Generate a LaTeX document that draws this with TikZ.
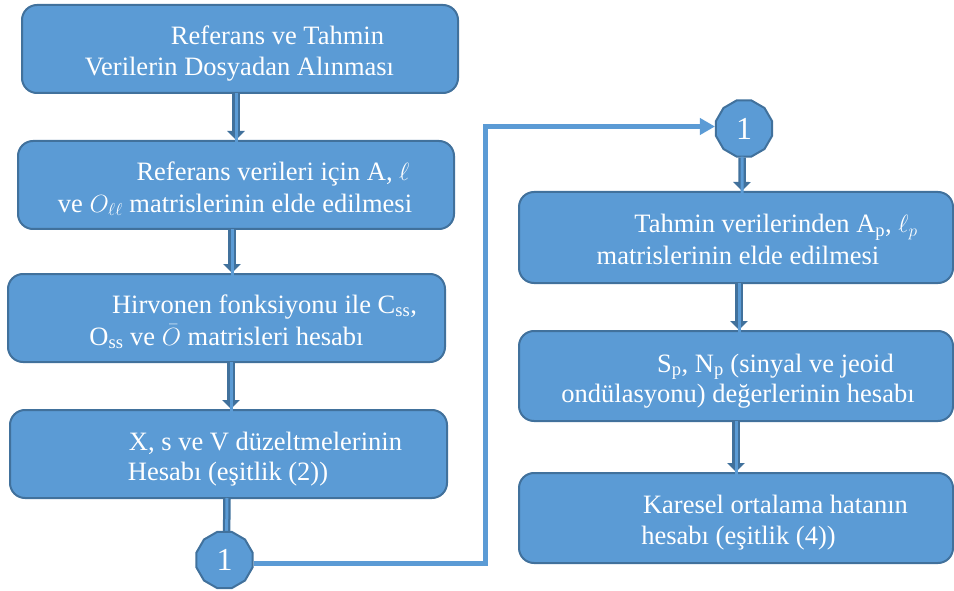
\documentclass[tikz,border=0pt]{standalone}
\usepackage{fontspec}
\setmainfont{Liberation Serif}
\usetikzlibrary{arrows.meta,shapes.geometric}
\definecolor{boxfill}{HTML}{5B9BD5}
\definecolor{boxline}{HTML}{41719C}
\tikzset{
  flowbox/.style={draw=boxline, fill=boxfill, line width=2pt, rounded corners=15pt, inner sep=0pt},
  txt/.style={anchor=base, text=white, inner sep=0pt, font=\fontsize{26.5}{31}\selectfont},
  conn/.style={draw=boxline, fill=boxfill, line width=2pt, regular polygon, regular polygon sides=12,
     minimum size=58pt, inner sep=0pt, text=white, font=\fontsize{32}{36}\selectfont},
  arrouter/.style={draw=boxline, line width=7.5pt, -{Triangle[length=9pt,width=17pt]}},
  arrinner/.style={draw=boxfill, line width=3pt},
  plainouter/.style={draw=boxline, line width=7.5pt},
  link/.style={draw=boxfill, line width=5pt}
}
\begin{document}
\begin{tikzpicture}[x=1pt,y=-1pt]
\useasboundingbox (0,0) rectangle (954,591);
% boxes
\node[flowbox, minimum width=436pt, minimum height=88pt] (b1) at (240,49) {};
\node[flowbox, minimum width=436pt, minimum height=88pt] (b2) at (236,185) {};
\node[flowbox, minimum width=437pt, minimum height=88pt] (b3) at (226.5,318) {};
\node[flowbox, minimum width=437pt, minimum height=88pt] (b4) at (228.5,454) {};
\node[flowbox, minimum width=434pt, minimum height=91pt] (b5) at (736,237.5) {};
\node[flowbox, minimum width=434pt, minimum height=90pt] (b6) at (736,376) {};
\node[flowbox, minimum width=434pt, minimum height=90pt] (b7) at (736,518) {};
% texts
\node[txt] (t1a) at (277.5,45) {Referans ve Tahmin};
\node[txt] (t1b) at (239.5,76) {Verilerin Dosyadan Alınması};
\node[txt] (t2a) at (273,181) {Referans verileri için A, $\ell$};
\node[txt] (t2b) at (235,212) {ve $O_{\ell\ell}$ matrislerinin elde edilmesi};
\node[txt] (t3a) at (264.5,313) {Hirvonen fonksiyonu ile C\textsubscript{ss},};
\node[txt] (t3b) at (226.5,345) {O\textsubscript{ss} ve \smash{$\bar{O}$} matrisleri hesabı};
\node[txt] (t4a) at (265.5,450) {X, s ve V düzeltmelerinin};
\node[txt] (t4b) at (228,480) {Hesabı (eşitlik (2))};
\node[txt] (t5a) at (776,233) {Tahmin verilerinden A\textsubscript{p}, $\ell_p$};
\node[txt] (t5b) at (738,265) {matrislerinin elde edilmesi};
\node[txt] (t6a) at (775.5,372) {S\textsubscript{p}, N\textsubscript{p} (sinyal ve jeoid};
\node[txt] (t6b) at (738,402) {ondülasyonu) değerlerinin hesabı};
\node[txt] (t7a) at (775.5,513) {Karesel ortalama hatanın};
\node[txt] (t7b) at (738.5,544) {hesabı (eşitlik (4))};
% arrows between boxes
\draw[arrouter] ([xshift=-4pt]b1.south) -- ([xshift=0pt]b2.north);
\draw[arrinner] ([xshift=-4pt,yshift=1pt]b1.south) -- ([xshift=0pt,yshift=-10pt]b2.north);
\draw[arrouter] ([xshift=-4pt]b2.south) -- ([xshift=5.5pt]b3.north);
\draw[arrinner] ([xshift=-4pt,yshift=1pt]b2.south) -- ([xshift=5.5pt,yshift=-10pt]b3.north);
\draw[arrouter] ([xshift=4.5pt]b3.south) -- ([xshift=2.5pt]b4.north);
\draw[arrinner] ([xshift=4.5pt,yshift=1pt]b3.south) -- ([xshift=2.5pt,yshift=-10pt]b4.north);
\draw[arrouter] ([xshift=3pt]b5.south) -- ([xshift=3pt]b6.north);
\draw[arrinner] ([xshift=3pt,yshift=1pt]b5.south) -- ([xshift=3pt,yshift=-10pt]b6.north);
\draw[arrouter] (b6.south) -- (b7.north);
\draw[arrinner] ([yshift=1pt]b6.south) -- ([yshift=-10pt]b7.north);
% connectors
\node[conn] (c2) at (744,128.5) {1};
\draw[arrouter] ([xshift=-2pt]c2.south) -- ([xshift=6pt]b5.north);
\draw[arrinner] ([xshift=-2pt,yshift=1pt]c2.south) -- ([xshift=6pt,yshift=-10pt]b5.north);
\draw[plainouter] ([xshift=-1.5pt]b4.south) -- (226.5,540);
\draw[arrinner] ([xshift=-1.5pt,yshift=1pt]b4.south) -- (226.5,540);
\node[conn] (c1) at (224.5,560) {1};
\coordinate (k1) at (485.5,563.5);
\coordinate (k2) at (485.5,126.5);
\draw[link, -{Triangle[length=15pt,width=16pt]}] (c1.east |- k1) -- (k1) -- (k2) -- (c2.west |- k2);
\end{tikzpicture}
\end{document}
